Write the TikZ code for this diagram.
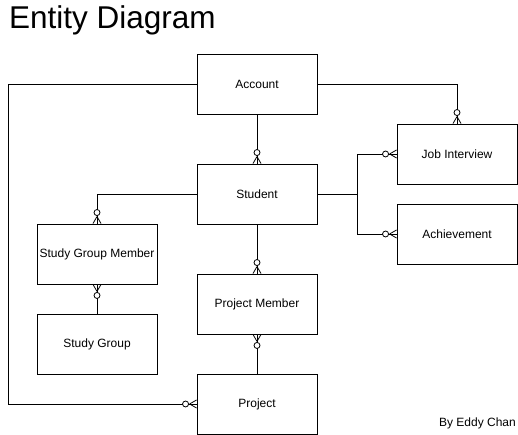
\documentclass[tikz,border=0pt]{standalone}
\usepackage{fontspec}
\setmainfont{Liberation Sans}
\begin{document}
\begin{tikzpicture}[x=1pt,y=1pt,
  entity/.style={draw,line width=0.9pt,minimum width=120pt,minimum height=60pt,inner sep=0pt,font=\fontsize{12}{14}\selectfont},
  conn/.style={line width=0.9pt},
  zm/.pic={\draw[line width=0.8pt] (-7,0) -- (0,4) (-7,0) -- (0,-4);
           \draw[line width=0.8pt,fill=white] (-11,0) circle (3);}
]
\useasboundingbox (0,0) rectangle (518,435);
\node[anchor=base west,inner sep=0pt,font=\fontsize{31.5}{34}\selectfont] (title) at (9,406.5) {Entity Diagram};
\node[entity] (acc) at (257,351) {Account};
\node[entity] (st) at (257,241) {Student};
\node[entity] (ji) at (457,281) {Job Interview};
\node[entity] (ach) at (457,201) {Achievement};
\node[entity] (sgm) at (97,181) {Study Group Member};
\node[entity] (sg) at (97,91) {Study Group};
\node[entity] (pm) at (257,131) {Project Member};
\node[entity] (proj) at (257,31) {Project};
\node[anchor=east,inner sep=0pt,font=\fontsize{12}{14}\selectfont] (by) at (516,12) {By Eddy Chan};
\coordinate (lft) at (8,351);
\coordinate (jn) at (357,241);
\draw[conn] (acc.west) -- (lft) |- (proj.west);
\draw[conn] (acc.east) -| (ji.north);
\draw[conn] (acc.south) -- (st.north);
\draw[conn] (st.east) -- (jn) |- (ji.west);
\draw[conn] (jn) |- (ach.west);
\draw[conn] (st.west) -| (sgm.north);
\draw[conn] (sgm.south) -- (sg.north);
\draw[conn] (st.south) -- (pm.north);
\draw[conn] (pm.south) -- (proj.north);
\pic at (proj.west) {zm};
\pic[rotate=-90] at (ji.north) {zm};
\pic[rotate=-90] at (st.north) {zm};
\pic at (ji.west) {zm};
\pic at (ach.west) {zm};
\pic[rotate=-90] at (sgm.north) {zm};
\pic[rotate=90] at (sgm.south) {zm};
\pic[rotate=-90] at (pm.north) {zm};
\pic[rotate=90] at (pm.south) {zm};
\end{tikzpicture}
\end{document}
